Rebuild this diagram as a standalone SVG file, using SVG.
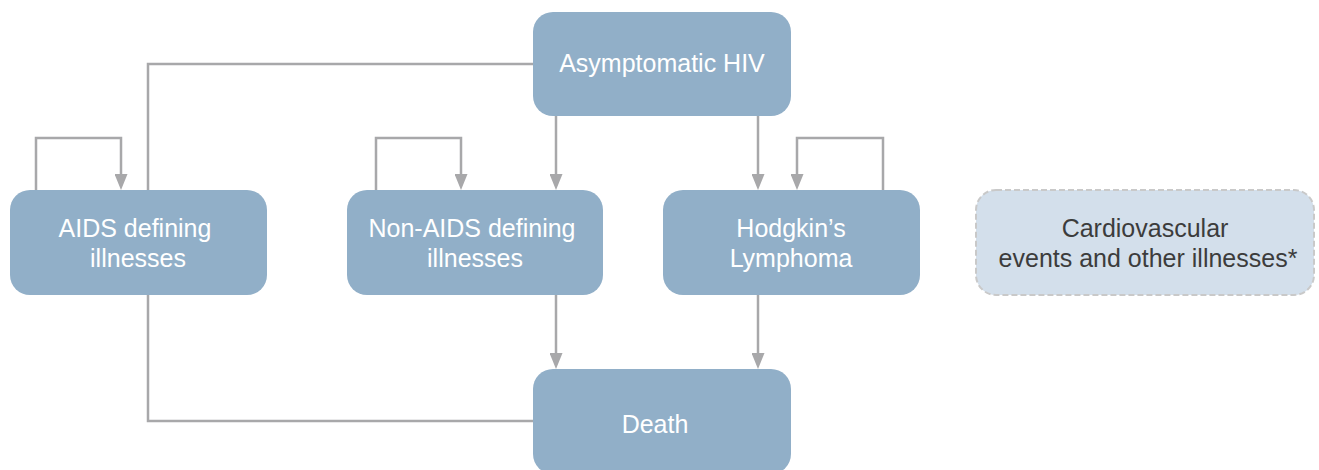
<svg xmlns="http://www.w3.org/2000/svg" width="1319" height="470" viewBox="0 0 1319 470">
<style>
.node{fill:#91afc8;}
.lbl{font-family:"Liberation Sans",Arial,sans-serif;font-size:25px;fill:#ffffff;text-anchor:middle;}
.dark{fill:#3c3c3c;}
.conn{fill:none;stroke:#a8a8aa;stroke-width:2.5;}
.dash{fill:#d3dfeb;stroke:#c9c9c9;stroke-width:2;stroke-dasharray:6 3;}
</style>
<defs>
<marker id="ah" viewBox="0 0 16 13" refX="12" refY="6.5" markerWidth="16" markerHeight="13" markerUnits="userSpaceOnUse" orient="auto">
<path d="M0,0 L16,6.5 L0,13 z" fill="#a8a8aa"/>
</marker>
</defs>
<rect width="1319" height="470" fill="#ffffff"/>
<g id="connectors">
<path class="conn" d="M533,64 H148 V190"/>
<path class="conn" d="M36,190 V138 H121 V186" marker-end="url(#ah)"/>
<path class="conn" d="M376,190 V138 H461 V186" marker-end="url(#ah)"/>
<path class="conn" d="M883,190 V138 H797 V186" marker-end="url(#ah)"/>
<path class="conn" d="M556,116 V186" marker-end="url(#ah)"/>
<path class="conn" d="M758,116 V186" marker-end="url(#ah)"/>
<path class="conn" d="M148,295 V421 H533"/>
<path class="conn" d="M556,295 V365" marker-end="url(#ah)"/>
<path class="conn" d="M758,295 V365" marker-end="url(#ah)"/>
</g>
<g id="asymptomatic">
<rect class="node" x="533" y="12" width="258" height="104" rx="20"/>
<text class="lbl" x="662" y="72">Asymptomatic HIV</text>
</g>
<g id="aids">
<rect class="node" x="10" y="190" width="257" height="105" rx="20"/>
<text class="lbl" x="135" y="237">AIDS defining</text>
<text class="lbl" x="138" y="267">illnesses</text>
</g>
<g id="nonaids">
<rect class="node" x="347" y="190" width="256" height="105" rx="20"/>
<text class="lbl" x="472" y="237">Non-AIDS defining</text>
<text class="lbl" x="475" y="267">illnesses</text>
</g>
<g id="hodgkin">
<rect class="node" x="663" y="190" width="257" height="105" rx="20"/>
<text class="lbl" x="791" y="237">Hodgkin’s</text>
<text class="lbl" x="791" y="267">Lymphoma</text>
</g>
<g id="cardio">
<rect class="dash" x="976" y="190" width="338" height="105" rx="20"/>
<text class="lbl dark" x="1145" y="237">Cardiovascular</text>
<text class="lbl dark" x="1148" y="267">events and other illnesses*</text>
</g>
<g id="death">
<rect class="node" x="533" y="369" width="258" height="105" rx="20"/>
<text class="lbl" x="655" y="433">Death</text>
</g>
</svg>
